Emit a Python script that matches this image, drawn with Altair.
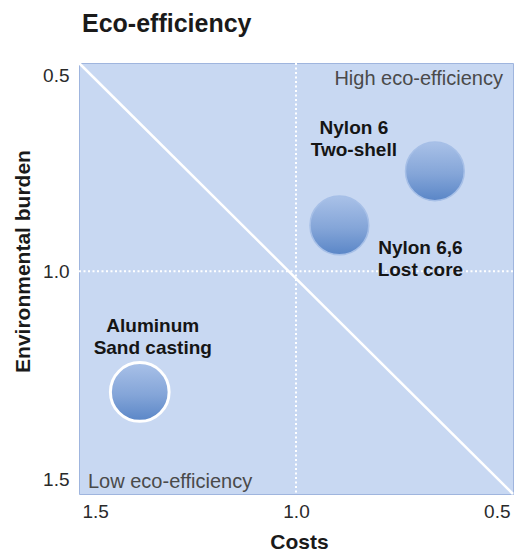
import altair as alt
import pandas as pd

# Materials compared (cost and environmental burden, relative to a reference of 1.0)
materials = ["Nylon 6\nTwo-shell", "Nylon 6,6\nLost core", "Aluminum\nSand casting"]
costs = [0.68, 0.90, 1.36]
burden = [0.76, 0.89, 1.29]

# Axis ticks and extents
cost_ticks = [1.5, 1.0, 0.5]
burden_ticks = [0.5, 1.0, 1.5]
cost_domain = [0.5, 1.5]
burden_domain = [0.5, 1.535]
reference = [1.0]

FONT = "Liberation Sans"
BG = "#c8d8f2"

bubbles = pd.DataFrame({"material": materials, "costs": costs, "burden": burden})
diagonal = pd.DataFrame({"costs": [cost_domain[1], cost_domain[0]],
                         "burden": [burden_domain[0], burden_domain[1]]})
ref = pd.DataFrame({"v": reference})

x_scale = alt.Scale(domain=cost_domain, reverse=True, nice=False, zero=False)
y_scale = alt.Scale(domain=burden_domain, reverse=True, nice=False, zero=False)

x_axis = alt.Axis(
    values=cost_ticks, format=".1f", ticks=False, domain=False, grid=False,
    labelFont=FONT, labelFontSize=19, labelColor="#2a2a2a", labelPadding=8,
    labelFlush=True, labelFlushOffset=-3,
    title="Costs", titleFont=FONT, titleFontSize=21, titleFontWeight="bold",
    titleColor="#1a1a1a", titleX=220, titleY=54, titleAlign="center",
    titleBaseline="alphabetic",
)
y_axis = alt.Axis(
    values=burden_ticks, format=".1f", ticks=False, domain=False, grid=False,
    labelFont=FONT, labelFontSize=19, labelColor="#2a2a2a", labelPadding=10,
    labelFlush=True, labelFlushOffset=-3,
    title="Environmental burden", titleFont=FONT, titleFontSize=21,
    titleFontWeight="bold", titleColor="#1a1a1a", titleX=-56, titleY=198,
    titleAlign="center", titleBaseline="middle", titleAngle=270,
)


def X(field):
    return alt.X(field, type="quantitative", scale=x_scale, axis=x_axis)


def Y(field):
    return alt.Y(field, type="quantitative", scale=y_scale, axis=y_axis)


# Dotted reference lines at 1.0
vline = alt.Chart(ref).mark_rule(color="white", strokeWidth=2, strokeDash=[2, 2.5]).encode(x=X("v"))
hline = alt.Chart(ref).mark_rule(color="white", strokeWidth=2, strokeDash=[2, 2.5]).encode(y=Y("v"))

# Diagonal separating high from low eco-efficiency
diag = alt.Chart(diagonal).mark_line(color="white", strokeWidth=2.5).encode(
    x=X("costs"), y=Y("burden"), order=alt.Order("costs:Q", sort="descending")
)

gradient = alt.LinearGradient(
    gradient="linear",
    stops=[
        alt.GradientStop(color="#a9c1e8", offset=0),
        alt.GradientStop(color="#84a5d8", offset=0.55),
        alt.GradientStop(color="#5a86c7", offset=1),
    ],
    x1=0, x2=0, y1=0, y2=1,
)

is_aluminum = alt.datum.material == materials[2]
circles = alt.Chart(bubbles).mark_circle(size=3450, opacity=1, fill=gradient).encode(
    x=X("costs"),
    y=Y("burden"),
    stroke=alt.condition(is_aluminum, alt.value("white"), alt.value("#a6bfe7")),
    strokeWidth=alt.condition(is_aluminum, alt.value(3), alt.value(1.5)),
)

# Bubble labels, each placed beside its bubble
label_offsets = {materials[0]: (-81, -37), materials[1]: (81, 29), materials[2]: (13, -60)}
labels = []
for name, (dx, dy) in label_offsets.items():
    labels.append(
        alt.Chart(bubbles).transform_filter(alt.datum.material == name).mark_text(
            font=FONT, fontSize=19, fontWeight="bold", color="#151515",
            align="center", baseline="alphabetic", lineBreak="\n", lineHeight=22,
            dx=dx, dy=dy,
        ).encode(x=X("costs"), y=Y("burden"), text="material:N")
    )

corners = pd.DataFrame({
    "costs": [cost_domain[0], cost_domain[1]],
    "burden": [burden_domain[0], burden_domain[1]],
    "text": ["High eco-efficiency", "Low eco-efficiency"],
})
high = alt.Chart(corners).transform_filter(alt.datum.text == "High eco-efficiency").mark_text(
    font=FONT, fontSize=20, color="#4a4a4a", align="right", baseline="alphabetic", dx=-10, dy=22
).encode(x=X("costs"), y=Y("burden"), text="text:N")
low = alt.Chart(corners).transform_filter(alt.datum.text == "Low eco-efficiency").mark_text(
    font=FONT, fontSize=20, color="#4a4a4a", align="left", baseline="alphabetic", dx=9, dy=-6
).encode(x=X("costs"), y=Y("burden"), text="text:N")

chart = alt.layer(vline, hline, diag, circles, *labels, high, low).properties(
    width=434,
    height=431,
    autosize=alt.AutoSizeParams(type="none"),
    padding={"left": 79, "top": 63, "right": 3, "bottom": 58},
    background="white",
    title=alt.TitleParams(
        "Eco-efficiency", anchor="start", frame="group", font=FONT, fontSize=25,
        fontWeight="bold", color="#1a1a1a", baseline="alphabetic", offset=1, dx=3,
    ),
).configure_view(fill=BG, stroke="#9fb5de", strokeWidth=1)

chart.save("out.html", embed_options={"renderer": "svg", "actions": False})
